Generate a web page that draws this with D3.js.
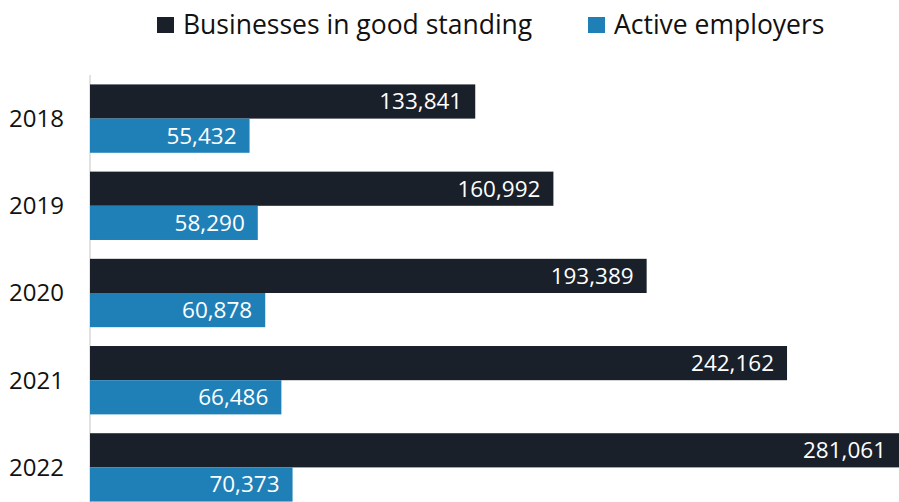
<!DOCTYPE html>
<head>
  <meta charset="utf-8">
  <script src="https://d3js.org/d3.v7.min.js"></script>
  <style>
    body { margin: 0; background: #fff; }
    text { font-family: 'Open Sans', sans-serif; }
    .bar-label { fill: #fff; font-size: 22.5px; text-anchor: end; }
    .year-label { fill: #111; font-size: 24px; text-anchor: end; }
    .legend text { fill: #111; font-size: 26.5px; }
  </style>
</head>
<body>
<script>
  var years = ["2018", "2019", "2020", "2021", "2022"];
  var businesses = [133841, 160992, 193389, 242162, 281061];
  var employers = [55432, 58290, 60878, 66486, 70373];
  var seriesNames = ["Businesses in good standing", "Active employers"];
  var colours = ["#19202a", "#1f80b8"];

  var width = 899, height = 502;
  var left = 90;

  var svg = d3.select("body").append("svg")
    .attr("width", width)
    .attr("height", height);

  var y = d3.scaleBand()
    .domain(years)
    .range([75, 511])
    .paddingInner(0.216)
    .paddingOuter(0.108);

  var sub = d3.scaleBand()
    .domain([0, 1])
    .range([0, y.bandwidth()]);

  var x = d3.scaleLinear()
    .domain([0, 281061])
    .range([left, 899]);

  var data = years.map((yr, i) => ({year: yr, values: [businesses[i], employers[i]]}));

  // axis line
  svg.append("line")
    .attr("x1", left).attr("x2", left)
    .attr("y1", 75).attr("y2", height)
    .attr("stroke", "#d9d9d9")
    .attr("stroke-width", 1.5);

  var groups = svg.append("g").selectAll("g")
    .data(data)
    .enter().append("g")
      .attr("transform", d => "translate(0," + y(d.year) + ")");

  groups.selectAll("rect")
    .data(d => d.values.map((v, k) => ({v: v, k: k})))
    .enter().append("rect")
      .attr("x", x(0))
      .attr("y", d => sub(d.k))
      .attr("width", d => x(d.v) - x(0))
      .attr("height", sub.bandwidth())
      .attr("fill", d => colours[d.k]);

  groups.selectAll("text.bar-label")
    .data(d => d.values.map((v, k) => ({v: v, k: k})))
    .enter().append("text")
      .attr("class", "bar-label")
      .attr("x", d => x(d.v) - 13)
      .attr("y", d => sub(d.k) + sub.bandwidth() / 2)
      .attr("dy", "0.35em")
      .text(d => d3.format(",")(d.v));

  groups.append("text")
    .attr("class", "year-label")
    .attr("x", left - 26)
    .attr("y", y.bandwidth() / 2)
    .attr("dy", "0.35em")
    .text(d => d.year);

  // legend
  var legend = svg.append("g").attr("class", "legend");
  var legendX = [157, 588];
  seriesNames.forEach((name, i) => {
    legend.append("rect")
      .attr("x", legendX[i])
      .attr("y", 17)
      .attr("width", 17)
      .attr("height", 16)
      .attr("fill", colours[i]);
    legend.append("text")
      .attr("x", legendX[i] + 26)
      .attr("y", 25)
      .attr("dy", "0.35em")
      .text(name);
  });
</script>
</body>
